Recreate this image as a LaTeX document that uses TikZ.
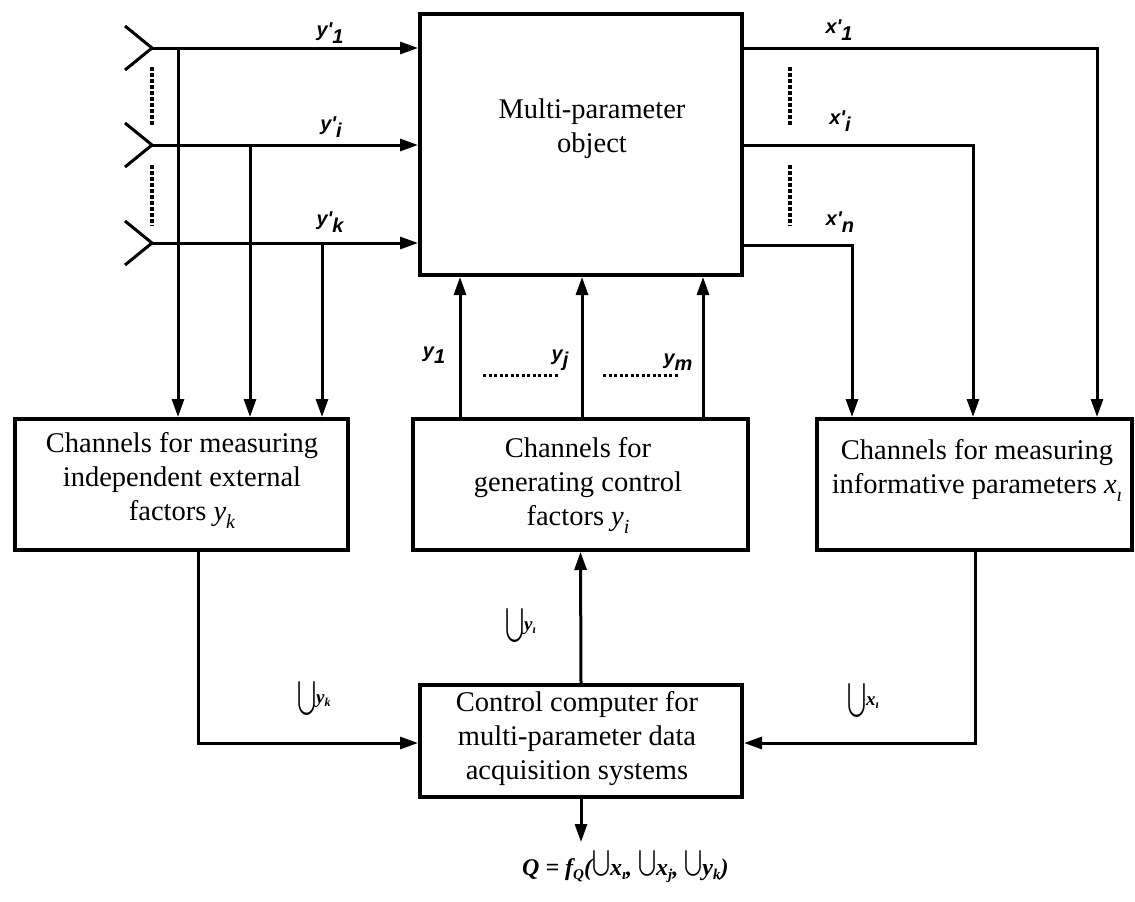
\documentclass[tikz,border=0pt]{standalone}
\usepackage{fontspec}
\usepackage{graphicx}
\setmainfont{Liberation Serif}
\newfontfamily\lblfont{Liberation Sans}
\usetikzlibrary{arrows.meta}
\newcommand{\subs}[1]{\raisebox{-0.28em}{\fontsize{20}{20}\selectfont\itshape #1}}
\newcommand{\plb}[2]{#1'\raisebox{-0.38em}{#2}}
\newcommand{\lsub}[2]{#1\raisebox{-0.3em}{#2}}
\newcommand{\cupglyph}[3]{\raisebox{\dimexpr\depth+#3\relax}{\resizebox*{#1}{#2}{$\bigcup$}}}
\newcommand{\ucup}[2]{\cupglyph{19pt}{34pt}{0pt}\raisebox{12pt}{\fontsize{19}{19}\selectfont\bfseries\itshape #1\raisebox{-0.2em}{\fontsize{12}{12}\selectfont #2}}}
\newcommand{\fcup}[2]{\cupglyph{18pt}{29pt}{-4pt}#1\raisebox{-0.2em}{\fontsize{15}{15}\selectfont #2}}
\begin{document}
\begin{tikzpicture}[x=1pt,y=-1pt,
  box/.style={draw, line width=4pt, inner sep=0pt},
  conn/.style={line width=3pt},
  arr/.style={conn, -{Triangle[length=18pt,width=12pt]}},
  boxtext/.style={align=center, inner sep=0pt, font=\fontsize{28.5}{34}\selectfont},
  lbl/.style={font=\lblfont\bfseries\itshape\fontsize{20}{20}\selectfont, inner sep=0pt},
  dotsv/.style={line width=4pt, dash pattern=on 3.5pt off 2.5pt},
  dotsh/.style={line width=3pt, dash pattern=on 3pt off 2.5pt},
]
\useasboundingbox (0,0) rectangle (1135,902);

% boxes
\node[box, minimum width=322pt, minimum height=261pt] (mpo) at (581,144.5) {};
\node[boxtext] (mpot) at (592,129) {Multi-parameter\\object};
\node[box, minimum width=333pt, minimum height=131pt] (lb) at (181.5,484.5) {};
\node[boxtext] (lbt) at (182,480) {Channels for measuring\\independent external\\factors \textit{y}\subs{k}};
\node[box, minimum width=335pt, minimum height=131pt] (mb) at (580.5,484.5) {};
\node[boxtext] (mbt) at (578,485) {Channels for\\generating control\\factors \textit{y}\subs{i}};
\node[box, minimum width=315pt, minimum height=131pt] (rb) at (974.5,484.5) {};
\node[boxtext] (rbt) at (977,470) {Channels for measuring\\informative parameters \textit{x}\subs{ı}};
\node[box, minimum width=322pt, minimum height=112pt] (cc) at (581,741) {};
\node[boxtext] (cct) at (577,739) {Control computer for\\multi-parameter data\\acquisition systems};

% inputs
\coordinate (in1) at (152,48);
\coordinate (in2) at (152,145);
\coordinate (in3) at (152,243);
\foreach \p in {in1,in2,in3}{
  \draw[conn] (\p) ++(-27,-22) -- (\p) -- ++(-27,22);
  \draw[arr] (\p) -- (\p -| mpo.west);
}
\coordinate (j1) at (178,48);
\coordinate (j2) at (250,145);
\coordinate (j3) at (322,243);
\foreach \p in {j1,j2,j3}{
  \draw[arr] (\p) -- (\p |- lb.north);
}
\draw[dotsv] (152,67) -- (152,126);
\draw[dotsv] (152,165) -- (152,226);

% outputs
\coordinate (c1) at (1097,48);
\coordinate (c2) at (973,145);
\coordinate (c3) at (852,245);
\foreach \p in {c1,c2,c3}{
  \draw[arr] (mpo.east |- \p) -- (\p) -- (\p |- rb.north);
}
\draw[dotsv] (790,67) -- (790,126);
\draw[dotsv] (790,165) -- (790,226);

% control factors
\coordinate (m1) at (460,0);
\coordinate (m2) at (582,0);
\coordinate (m3) at (703,0);
\foreach \p in {m1,m2,m3}{
  \draw[arr] (\p |- mb.north) -- (\p |- mpo.south);
}
\draw[dotsh] (483,375) -- (558,375);
\draw[dotsh] (603,375) -- (678,375);

% to/from control computer
\coordinate (lc) at (198,743);
\coordinate (rc) at (975,743);
\draw[arr] (lc |- lb.south) -- (lc) -- (lc -| cc.west);
\draw[arr] (rc |- rb.south) -- (rc) -- (rc -| cc.east);
\draw[arr] (cc.north) -- (mb.south);
\coordinate (qout) at (581,842);
\draw[arr] (cc.south) -- (qout);

% labels
\node[lbl] (ly1) at (330,33) {\plb{y}{1}};
\node[lbl] (lyi) at (331,127) {\plb{y}{i}};
\node[lbl] (lyk) at (330,222) {\plb{y}{k}};
\node[lbl] (lx1) at (839,30) {\plb{x}{1}};
\node[lbl] (lxi) at (840,121) {\plb{x}{i}};
\node[lbl] (lxn) at (840,222) {\plb{x}{n}};
\node[lbl] (ly1b) at (434,355) {\lsub{y}{1}};
\node[lbl] (lyj) at (560,360) {\lsub{y}{j}};
\node[lbl] (lym) at (678,362) {\lsub{y}{m}};

\node[inner sep=0pt, anchor=base west] (uyk) at (297,715) {\ucup{y}{k}};
\node[inner sep=0pt, anchor=base west] (uxl) at (847,717) {\ucup{x}{ı}};
\node[inner sep=0pt, anchor=base west] (uyl) at (505,642) {\ucup{y}{ı}};

\node[inner sep=0pt, anchor=base west, font=\bfseries\itshape\fontsize{24}{24}\selectfont] (formula) at (522,875)
  {Q = f\raisebox{-0.2em}{\fontsize{15}{15}\selectfont Q}(\fcup{x}{ı}, \fcup{x}{j}, \fcup{y}{k})};
\end{tikzpicture}
\end{document}
